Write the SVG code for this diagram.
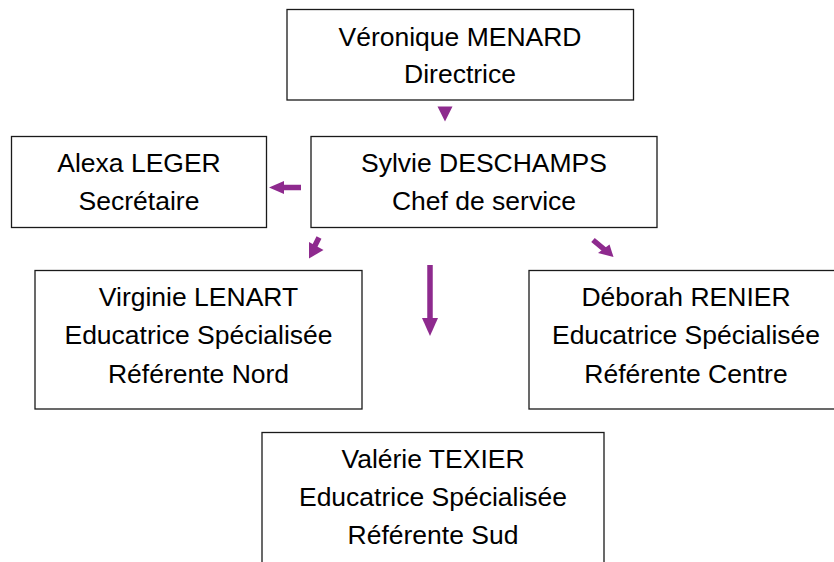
<svg xmlns="http://www.w3.org/2000/svg" width="834" height="562" viewBox="0 0 834 562">
<style>
.box{fill:#fff;stroke:#1a1a1a;stroke-width:1.3}
text{font-family:"Liberation Sans",Arial,sans-serif;font-size:26.5px;fill:#000;text-anchor:middle}
.arr{fill:#8E2A8E;stroke:none}
.shaft{stroke:#8E2A8E;stroke-width:5.5;fill:none}
</style>
<rect width="834" height="562" fill="#fff"/>
<g id="connectors">
<polygon class="arr" points="437.5,106.5 452.5,106.5 445,121.5"/>
<line class="shaft" x1="301" y1="187.5" x2="282" y2="187.5"/>
<polygon class="arr" points="269,187.5 284,181 284,194"/>
<line class="shaft" x1="319" y1="237.5" x2="314" y2="247.5"/>
<polygon class="arr" points="309,242 323.5,250 309,258.5"/>
<line class="shaft" x1="593" y1="240" x2="605" y2="250"/>
<polygon class="arr" points="598,253 609.5,244.5 613.5,257"/>
<line class="shaft" x1="430" y1="265" x2="430" y2="320"/>
<polygon class="arr" points="422,318 438,318 430,336"/>
</g>
<g id="menard">
<rect class="box" x="287" y="9.5" width="346.5" height="90.5"/>
<text x="460" y="45.5">Véronique MENARD</text>
<text x="460" y="83">Directrice</text>
</g>
<g id="leger">
<rect class="box" x="11.5" y="136.5" width="255" height="91"/>
<text x="139" y="171.5">Alexa LEGER</text>
<text x="139" y="210">Secrétaire</text>
</g>
<g id="deschamps">
<rect class="box" x="311" y="136.5" width="346" height="91"/>
<text x="484" y="171.5">Sylvie DESCHAMPS</text>
<text x="484" y="210">Chef de service</text>
</g>
<g id="lenart">
<rect class="box" x="35" y="270.5" width="327" height="138.5"/>
<text x="198.5" y="306">Virginie LENART</text>
<text x="198.5" y="344">Educatrice Spécialisée</text>
<text x="198.5" y="382.5">Référente Nord</text>
</g>
<g id="renier">
<rect class="box" x="529" y="270.5" width="314" height="138.5"/>
<text x="686" y="306">Déborah RENIER</text>
<text x="686" y="344">Educatrice Spécialisée</text>
<text x="686" y="382.5">Référente Centre</text>
</g>
<g id="texier">
<rect class="box" x="262" y="432.5" width="342" height="140"/>
<text x="433" y="468">Valérie TEXIER</text>
<text x="433" y="506">Educatrice Spécialisée</text>
<text x="433" y="544">Référente Sud</text>
</g>
</svg>
